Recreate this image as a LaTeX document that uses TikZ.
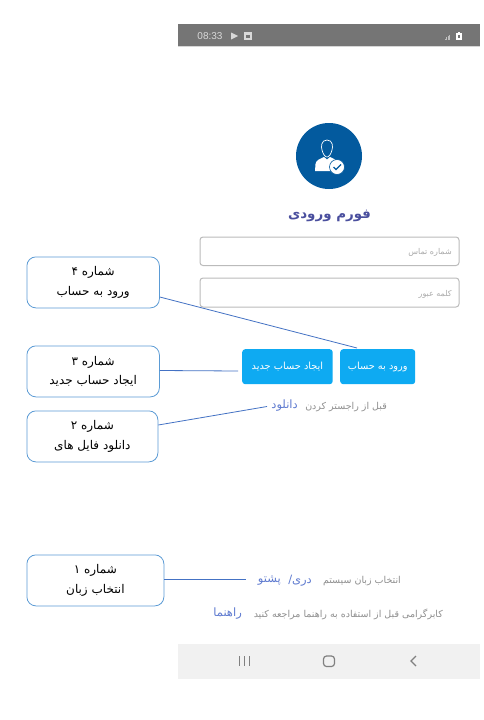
\documentclass[tikz,border=0pt]{standalone}
\usepackage{fontspec}
\TeXXeTstate=1
\newfontfamily\arabicfont[Script=Arabic]{DejaVu Sans}
\setmainfont{Liberation Sans}
\newcommand{\fa}[1]{{\arabicfont\beginR #1\endR}}
\newcommand{\fz}[1]{\fontsize{#1}{#1}\selectfont}
\definecolor{calloutblue}{HTML}{5B9BD5}
\definecolor{linkblue}{HTML}{4472C4}
\definecolor{skybtn}{HTML}{0EAAF2}
\definecolor{statusgray}{HTML}{757575}
\definecolor{navgray}{HTML}{F1F1F1}
\definecolor{navicon}{HTML}{808080}
\definecolor{fieldgray}{HTML}{BBBBBB}
\definecolor{hintgray}{HTML}{ABABAB}
\definecolor{notegray}{HTML}{8F8F8F}
\definecolor{linktext}{HTML}{5F7BD0}
\definecolor{titleblue}{HTML}{4A4F9E}
\definecolor{badgeblue}{HTML}{035A9E}
\tikzset{
  callout/.style={draw=calloutblue,line width=0.8pt,rounded corners=9pt,fill=white,align=center,inner sep=0pt,font=\fz{12},text=black},
  leader/.style={draw=linkblue,line width=0.8pt},
  field/.style={draw=fieldgray,line width=1pt,rounded corners=3pt,fill=white,inner sep=0pt},
  btn/.style={fill=skybtn,rounded corners=3pt,text=white,font=\fz{9.8},inner sep=0pt},
  hint/.style={text=hintgray,font=\fz{8},inner sep=0pt},
  note/.style={text=notegray,font=\fz{9.5},inner sep=0pt},
  linktxt/.style={text=linktext,font=\fz{11.5},inner sep=0pt}
}
\begin{document}
\begin{tikzpicture}[x=1pt,y=-1pt]
\useasboundingbox (0,0) rectangle (484,720);
\fill[white] (0,0) rectangle (484,720);
% status bar
\node[fill=statusgray,minimum width=302pt,minimum height=22pt,inner sep=0pt,anchor=north west] (status) at (178,24) {};
\fill[fieldgray!60] (178,46) rectangle (480,47);
\node[text=white!85!black,font=\fz{10},inner sep=0pt] (clock) at (210,36) {08:33};
\fill[white!85!black] (231,32.5) -- (238,36) -- (231,39.5) -- cycle;
\fill[white!85!black] (244,32) rectangle (251.5,40);
\fill[statusgray] (246,34.5) rectangle (249.5,37.5);
\foreach \i in {0,1,2,3} \fill[white!75!black] (444.5+\i*1.6,38.5-\i*1.1) rectangle (445.5+\i*1.6,39.5);
\fill[white] (456,32.5) rectangle (461.5,40);
\fill[white] (457.5,31.5) rectangle (460,33);
\fill[statusgray] (458,35) rectangle (459.5,38);
% logo
\node[circle,fill=badgeblue,minimum size=66pt,inner sep=0pt] (logo) at (329,156) {};
\draw[white,line width=0.7pt] (327,140) .. controls (321,140) and (321,147) .. (322,150) .. controls (323,154) and (325,157) .. (327,157) .. controls (329,157) and (331,154) .. (332,150) .. controls (333,147) and (333,140) .. (327,140) -- cycle;
\fill[white] (315,171) -- (315.5,164) .. controls (316,160) and (320,159) .. (324,157) -- (327,159.5) -- (330,157) .. controls (333,158) and (336,160) .. (338,162) -- (338,171) -- cycle;
\node[circle,fill=white,draw=badgeblue,line width=0.6pt,minimum size=15pt,inner sep=0pt] (check) at (337,167) {};
\draw[badgeblue,line width=1.2pt] (333.5,167) -- (336,169.5) -- (341,164.5);
% title
\node[text=titleblue,font=\bfseries\fz{13.4},inner sep=0pt] (title) at (329.5,215.5) {\fa{فورم ورودی}};
% fields
\node[field,minimum width=259pt,minimum height=28.5pt,anchor=north west] (phone) at (199.5,236.5) {};
\node[field,minimum width=259pt,minimum height=29pt,anchor=north west] (pass) at (199.5,277.5) {};
\node[hint,anchor=east] (phonehint) at (452,252) {\fa{شماره تماس}};
\node[hint,anchor=east] (passhint) at (452,294) {\fa{کلمه عبور}};
% buttons
\node[btn,minimum width=75pt,minimum height=35pt,anchor=north west] (login) at (340,349) {\raisebox{-1.5pt}{\fa{ورود به حساب}}};
\node[btn,minimum width=90.5pt,minimum height=35pt,anchor=north west] (create) at (242,349) {\raisebox{-1.5pt}{\fa{ایجاد حساب جدید}}};
% texts
\node[note,anchor=east] (before) at (387,407) {\fa{قبل از راجستر کردن}};
\node[linktxt,anchor=east] (download) at (298,406) {\fa{دانلود}};
\node[note,anchor=east] (langlabel) at (401,581) {\fa{انتخاب زبان سیستم}};
\node[linktxt,anchor=east] (dari) at (312,580.5) {\fa{دری/}};
\node[linktxt,anchor=east] (pashto) at (281,580.5) {\fa{پشتو}};
\node[note,anchor=east] (helpnote) at (443,614) {\fa{کابرگرامی قبل از استفاده به راهنما مراجعه کنید}};
\node[linktxt,anchor=east] (helplink) at (242,613.5) {\fa{راهنما}};
% nav bar
\node[fill=navgray,minimum width=302pt,minimum height=35pt,inner sep=0pt,anchor=north west] (nav) at (178,644) {};
\foreach \x in {239.5,244.5,249.5} \draw[navicon,line width=1.2pt] (\x,656) -- (\x,666);
\draw[navicon,line width=1.2pt,rounded corners=3pt] (323.5,656) rectangle (334.5,666.5);
\draw[navicon,line width=1.2pt] (416,656) -- (411,661) -- (416,666);
% callouts
\node[callout,minimum width=132.5pt,minimum height=51pt,anchor=north west] (c4) at (26.5,256.5) {\raisebox{-1pt}{\fa{شماره ۴}}\\[6pt]\raisebox{-1pt}{\fa{ورود به حساب}}};
\node[callout,minimum width=132.5pt,minimum height=51pt,anchor=north west] (c3) at (26.5,345.5) {\raisebox{-1pt}{\fa{شماره ۳}}\\[6pt]\raisebox{-1pt}{\fa{ایجاد حساب جدید}}};
\node[callout,minimum width=131pt,minimum height=51pt,anchor=north west] (c2) at (26.5,410.5) {\raisebox{-1pt}{\fa{شماره ۲}}\\[6pt]\raisebox{-1pt}{\fa{دانلود فایل های}}};
\node[callout,minimum width=137pt,minimum height=51pt,anchor=north west] (c1) at (26.5,554.5) {\raisebox{-1pt}{\fa{شماره ۱}}\\[6pt]\raisebox{-1pt}{\fa{انتخاب زبان}}};
% leaders
\coordinate (e4) at (357,348);
\coordinate (e3) at (238,371);
\coordinate (e2) at (267,406.5);
\coordinate (e1) at (246,579);
\draw[leader] (c4.east |- 0,297) -- (e4);
\draw[leader] (c3.east |- 0,370.5) -- (e3);
\draw[leader] (c2.east |- 0,425) -- (e2);
\draw[leader] (c1.east |- 0,579) -- (e1);
\end{tikzpicture}
\end{document}
